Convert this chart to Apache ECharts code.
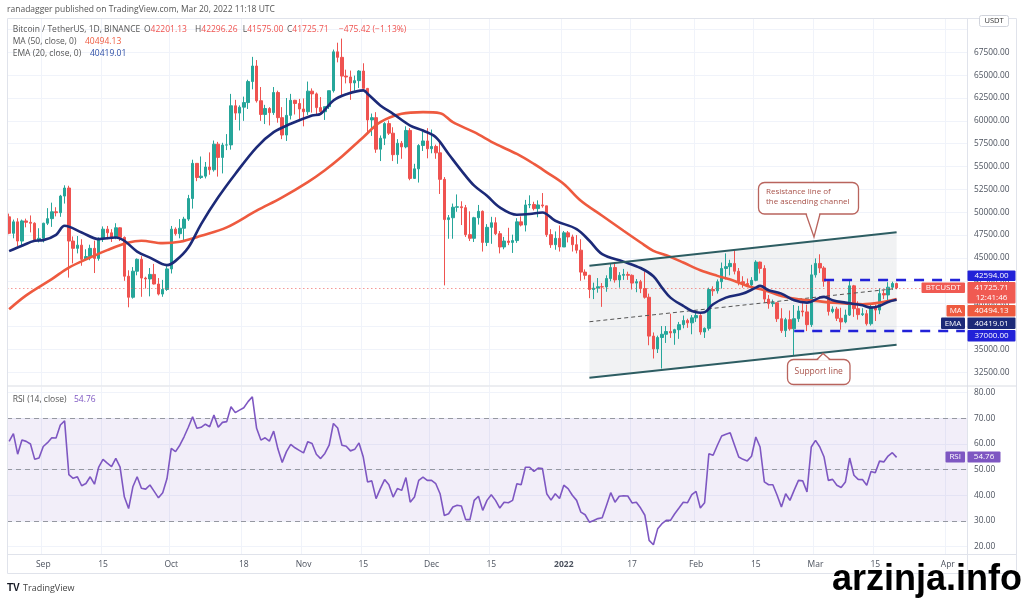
<!DOCTYPE html>
<html><head><meta charset="utf-8">
<script src="https://cdn.jsdelivr.net/npm/echarts@6/dist/echarts.min.js"></script>
<style>html,body{margin:0;padding:0;background:#fff}#c{width:1024px;height:599px}</style>
</head><body><div id="c"></div>
<script>
// ---------- DATA ----------
// Daily candles BTC/USDT, 2021-08-24 .. 2022-03-20 (index 0..208)
const opens = [
49500,47700,48950,46850,49050,48900,48800,46990,47150,48800,
49300,50050,49950,51770,52650,46850,46050,46400,44850,45150,
46050,44950,47100,48150,47750,47300,48300,47250,43000,40700,
43550,44850,42800,42700,43200,42150,41050,41550,43800,48150,
47650,48250,49250,51500,55350,53800,53950,54950,54650,57450,
56000,57350,57370,61650,60850,61500,62000,64300,66000,62200,
60700,61350,60900,63100,60350,58450,60600,62250,61900,61300,
61000,63250,62950,61450,61000,61550,63300,67550,66950,64900,
64800,64150,64400,65450,63550,60100,60350,56900,58100,59700,
58650,56300,57550,57150,58950,53700,54750,57300,57800,56950,
57200,56500,53600,49200,49400,50550,50600,50500,47550,47150,
49400,50100,46700,48350,48850,47650,46200,46850,46700,46900,
48950,48600,50800,50850,50400,50800,50700,47550,46450,47150,
46200,47750,47300,46450,45850,43450,43100,41550,41700,41850,
41830,42750,43950,42600,43100,43200,43100,42250,42400,41650,
40700,36450,35050,36300,36650,36950,36800,37150,37700,38150,
37900,38450,38700,36900,37300,41550,41400,42400,43850,44050,
44400,43550,42400,42200,42050,42550,44550,43850,40500,40000,
40100,38350,37050,38250,37250,38350,39200,39100,37700,43150,
44400,43900,42450,39150,39400,38400,38000,38750,41950,39450,
38800,38900,37800,39650,39300,41100,40950,41800,42201.13];
const highs = [
49850,49200,49350,49200,49300,49650,48900,48250,48850,50450,
51050,50550,51900,52950,52900,47350,47400,47050,45950,46450,
46900,47250,48450,48500,48150,48800,48350,47350,43650,44000,
44950,45200,42950,43900,44350,42800,42600,44100,48500,48350,
49250,49500,51900,55750,55350,56100,55500,56550,57850,57700,
57600,58550,62950,62300,61700,62650,64500,67000,66650,63700,
61750,61500,63700,63300,61500,62500,62950,62300,62400,62450,
64300,63550,63100,62600,61550,63300,67800,68550,69000,65600,
65500,64950,65550,66300,63600,60800,60950,58400,59850,60050,
59300,58000,57800,59400,59200,55300,57450,58850,59200,59050,
57400,57600,53850,49700,50950,51950,51200,50800,50100,49500,
50800,50200,48700,49500,49450,47950,47300,48300,47550,49350,
49550,51350,51850,51150,51300,52100,50700,48150,47900,48550,
47950,47950,47550,47500,47050,43750,43150,42300,42800,42250,
43100,44350,44450,43450,43800,43500,43200,42700,42600,43500,
41100,36850,36500,37550,37550,38900,37250,38000,38700,38350,
38750,39250,38850,37400,41750,41900,42650,44500,45500,44800,
45850,43900,43000,42750,42900,44750,44600,44200,40950,40450,
40150,39500,38450,39250,39850,39750,40300,39900,44250,44950,
45400,44100,42500,39700,39650,39550,39350,42600,42050,40250,
39500,39300,39950,39900,41700,41500,42350,42400,42296.26];
const lows = [
47600,47150,46300,46400,48350,47800,46850,46700,46700,48600,
48400,49550,49500,50950,42850,44400,45500,44150,44750,44750,
43350,44700,46750,47050,46750,47050,46850,42500,39600,40550,
43100,40750,41650,40800,42100,40900,40750,41400,43300,47450,
47150,46950,49050,50400,53400,53650,53700,54100,54450,53900,
54250,56800,56850,60100,58950,60000,61300,63450,62000,60000,
59650,59500,60650,59800,58000,57800,60150,60700,59950,59400,
60650,60900,60700,60800,60100,61300,63100,66400,62800,64100,
62300,63300,63600,63550,58550,58350,56500,55600,57350,58450,
55600,55300,55850,57000,53500,53650,53250,56700,55900,56450,
55850,52000,42000,47100,47100,50050,48600,47300,46850,46750,
48650,45700,46300,46550,47500,45500,45950,46400,45550,46650,
48450,47900,50450,50200,49450,50500,47300,46100,45900,45700,
46200,46700,45700,45500,42500,42650,40600,40500,41200,39650,
41300,42450,42300,41750,42600,42600,41550,41250,41150,40550,
35450,34000,34600,32900,35700,36250,35500,36150,37300,37350,
36650,38000,36600,36250,37050,40850,41100,41650,42650,43100,
43200,42000,41750,41850,41550,42450,43300,40100,39450,39650,
38000,36800,36350,37050,34300,38000,38600,37000,37450,42850,
43350,41850,38700,38950,38100,37150,37850,38650,38550,38250,
38650,37600,37600,38100,38850,40500,40150,41500,41575.00];
const closes = [
47700,48950,46850,49050,48900,48800,46990,47150,48800,49300,
50050,49950,51770,52650,46850,46050,46400,44850,45150,46050,
44950,47100,48150,47750,47300,48300,47250,43000,40700,43550,
44850,42800,42700,43200,42150,41050,41550,43800,48150,47650,
48250,49250,51500,55350,53800,53950,54950,54650,57450,56000,
57350,57370,61650,60850,61500,62000,64300,66000,62200,60700,
61350,60900,63100,60350,58450,60600,62250,61900,61300,61000,
63250,62950,61450,61000,61550,63300,67550,66950,64900,64800,
64150,64400,65450,63550,60100,60350,56900,58100,59700,58650,
56300,57550,57150,58950,53700,54750,57300,57800,56950,57200,
56500,53600,49200,49400,50550,50600,50500,47550,47150,49400,
50100,46700,48350,48850,47650,46200,46850,46700,46900,48950,
48600,50800,50850,50400,50800,50700,47550,46450,47150,46200,
47750,47300,46450,45850,43450,43100,41550,41700,41850,41830,
42750,43950,42600,43100,43200,43100,42250,42400,41650,40700,
36450,35050,36300,36650,36950,36800,37150,37700,38150,37900,
38450,38700,36900,37300,41550,41400,42400,43850,44050,44400,
43550,42400,42200,42050,42550,44550,43850,40500,40000,40100,
38350,37050,38250,37250,38350,39200,39100,37700,43150,44400,
43900,42450,39150,39400,38400,38000,38750,41950,39450,38800,
38900,37800,39650,39300,41100,40950,41800,42200,41725.71];

// MA(50) and EMA(20)
const maPoints = [
['2021-08-24',39380],['2021-08-28',40900],['2021-09-03',42680],['2021-09-07',43950],['2021-09-12',45050],
['2021-09-16',45860],['2021-09-21',46690],['2021-09-24',46880],['2021-09-29',46620],['2021-10-03',46770],
['2021-10-08',47420],['2021-10-14',48340],['2021-10-21',50170],['2021-10-27',51630],['2021-11-02',53300],
['2021-11-06',54600],['2021-11-10',56100],['2021-11-15',58210],['2021-11-19',59850],['2021-11-24',60770],
['2021-11-29',60950],['2021-12-03',60840],['2021-12-06',59850],['2021-12-11',58760],['2021-12-16',57480],
['2021-12-21',56380],['2021-12-25',55290],['2021-12-28',54370],['2022-01-01',53100],['2022-01-05',51260],
['2022-01-10',49620],['2022-01-15',47970],['2022-01-19',46690],['2022-01-22',45780],['2022-01-25',45300],
['2022-01-29',44500],['2022-02-02',43660],['2022-02-06',43040],['2022-02-10',42490],['2022-02-13',41940],
['2022-02-17',41470],['2022-02-21',40840],['2022-02-25',40480],['2022-03-01',40300],['2022-03-05',40110],
['2022-03-09',40000],['2022-03-12',39930],['2022-03-16',40110],['2022-03-20',40494.13]];
const emaPoints = [
['2021-08-24',45750],['2021-08-27',46330],['2021-08-30',46880],['2021-09-01',46950],['2021-09-04',47530],
['2021-09-06',48520],['2021-09-10',47790],['2021-09-14',47060],['2021-09-18',47240],['2021-09-20',46880],
['2021-09-23',45700],['2021-09-26',45040],['2021-09-30',44210],['2021-10-02',44680],['2021-10-05',46140],
['2021-10-08',48710],['2021-10-12',51630],['2021-10-16',54190],['2021-10-21',57110],['2021-10-25',58760],
['2021-10-29',59680],['2021-11-03',60590],['2021-11-05',60770],['2021-11-08',62230],['2021-11-11',62900],
['2021-11-15',63330],['2021-11-16',62970],['2021-11-19',61690],['2021-11-22',60770],['2021-11-26',59490],
['2021-11-29',58940],['2021-12-02',58210],['2021-12-05',56380],['2021-12-08',54560],['2021-12-11',52910],
['2021-12-14',51810],['2021-12-17',50530],['2021-12-21',49720],['2021-12-24',49800],['2021-12-27',49980],
['2021-12-30',49070],['2022-01-04',48160],['2022-01-07',46880],['2022-01-10',45420],['2022-01-15',44600],
['2022-01-19',43900],['2022-01-22',43000],['2022-01-24',41750],['2022-01-26',40660],['2022-01-29',39750],
['2022-01-31',39200],['2022-02-02',39010],['2022-02-03',39050],['2022-02-05',39930],['2022-02-08',40660],
['2022-02-12',41100],['2022-02-15',41750],['2022-02-16',41940],['2022-02-18',41470],['2022-02-21',41100],
['2022-02-24',40370],['2022-02-27',40110],['2022-03-02',40660],['2022-03-03',40740],['2022-03-05',40370],
['2022-03-08',40110],['2022-03-12',39820],['2022-03-14',39560],['2022-03-16',39750],['2022-03-18',40180],
['2022-03-20',40419.01]];

// RSI(14), index 0..208
const rsi = [
61,64,56,61.5,61,60,54,54.5,59,60.5,
62.4,62.3,67.4,69,48,46.6,47.2,43.7,44.6,47.2,
44.3,51,54,52.5,51.2,54.4,51,39.4,34.8,43.3,
47.2,42.7,42.4,44,41.5,39,41,46.5,58.3,57,
59.5,62.8,66.5,70.6,66.1,66.5,67.7,66.7,71.3,66.5,
68.4,68.7,74.5,72.2,73.2,74.1,76.5,78.4,66.1,61.5,
62.4,61.1,65,58,52.8,57,59.8,58.5,57.5,56.5,
60.9,60.2,56,54.3,56.3,59.5,68,66.2,59.5,59.1,
57.3,57.9,60.4,54.9,45.2,45.6,38.7,42.6,46.1,44.1,
39.3,42.6,41.9,46.9,37.3,39.3,45.8,47.1,45.8,45.8,
44.5,40.6,32.1,32.8,35.4,36.1,35.8,30.5,30.5,38,
39.6,34.1,38,40.2,38,35,37.3,37.1,38,44.5,
44.1,50.9,50.9,49.3,50.6,50.4,40.6,38.1,40.6,38.7,
43.9,42.6,40,38,33.4,32.4,29.5,30.2,30.9,31.2,
36,41,37.3,39.6,39.8,39.7,37,37.3,35,32.2,
22.4,20.7,26.9,28.9,30.2,30.2,32.8,35,37.3,37.1,
40.2,41.5,35,37.1,56.2,55.6,59.5,63.1,63.8,64.4,
59.6,54.9,54,53.4,55.2,62.7,58.8,45.2,44.1,44.1,
40,35.4,40.6,38,42,45.8,45.6,41.3,58.8,61.4,
58.8,54.9,45.8,46.2,43.9,43,45.2,54.5,47.8,46.2,
46.1,43.9,49.3,48.8,53.3,53,55.3,56.6,54.76];

// Drawings
const channelX = ['2022-01-07', '2022-03-20'];
const channelUpper = [44150, 47820];
const channelLower = [31890, 35500];
const channelMid = [38020, 41660];
const resistanceLevel = 42594;
const supportLevel = 37000;
const resistanceStart = '2022-03-03';
const supportStart = '2022-02-24';

// Axis ticks
const priceTicks = [32500,35000,37500,40000,42500,45000,47500,50000,52500,55000,57500,60000,62500,65000,67500];
const priceGrid = priceTicks.concat([70000]);
const rsiTicks = [20,30,40,50,60,70,80];
const xLabels = {
 '2021-09-01':'Sep','2021-09-15':'15','2021-10-01':'Oct','2021-10-18':'18','2021-11-01':'Nov','2021-11-15':'15',
 '2021-12-01':'Dec','2021-12-15':'15','2022-01-01':'2022','2022-01-17':'17','2022-02-01':'Feb','2022-02-15':'15',
 '2022-03-01':'Mar','2022-03-15':'15','2022-04-01':'Apr'};

// categories: every day from 2021-08-24 to 2022-04-05
const dates = [];
for (let t = Date.UTC(2021,7,24); t <= Date.UTC(2022,3,5); t += 86400000) dates.push(new Date(t).toISOString().slice(0,10));
const lastDate = dates[dates.length-1];

// ---------- CHART ----------
const FONT = '"Open Sans", "Noto Sans", sans-serif';
const UP = '#26a69a', DOWN = '#ef5350', MA_C = '#ee5a3f', EMA_C = '#1c2a78', BLUE = '#2222d8', PURPLE = '#7e57c2';
const candles = opens.map((o,i)=>[o, closes[i], lows[i], highs[i]]);
const n = closes.length - 1;
const chg = closes[n] - opens[n];
const chgPct = chg / opens[n] * 100;
const fmt = v => v.toFixed(2);
const minus = s => s.replace('-', '\u2212');

const G = [];
function txt(x, y, text, fill, size, o) {
  o = o || {};
  G.push({type:'text', x, y, silent:true, z:o.z||120,
    style:{text, fill, font:(o.weight?o.weight+' ':'')+size+'px '+(o.family||FONT),
      textAlign:o.align||'left', textVerticalAlign:o.va||'middle'}});
}
function box(x, y, w, h, fill, r) {
  G.push({type:'rect', silent:true, z:110, shape:{x, y, width:w, height:h, r:r||0}, style:{fill}});
}
function line(x1,y1,x2,y2,c,w){ G.push({type:'line', silent:true, z:90, shape:{x1,y1,x2,y2}, style:{stroke:c, lineWidth:w||1}}); }
function ohlc(x, letter, val) {
  G.push({type:'text', x, y:29.5, silent:true, z:120, style:{
    text:'{g|'+letter+'}{r|'+fmt(val)+'}', textVerticalAlign:'middle', font:'8.5px '+FONT,
    rich:{g:{fill:'#555', font:'8.5px '+FONT}, r:{fill:'#ef5350', font:'8.5px '+FONT}}}});
}

// frame
line(7.5,18.5,1016.5,18.5,'#e0e3eb'); line(7.5,573.5,1016.5,573.5,'#e0e3eb');
line(7.5,18.5,7.5,573.5,'#e0e3eb'); line(1016.5,18.5,1016.5,573.5,'#e0e3eb');
line(967.5,18.5,967.5,573.5,'#e0e3eb');
line(7.5,386,1016.5,386,'#d9dce3'); line(7.5,554.5,1016.5,554.5,'#e0e3eb');

// header
txt(7, 10, 'ranadagger published on TradingView.com, Mar 20, 2022 11:18 UTC', '#555', 8.5);
txt(12.7, 29.5, 'Bitcoin / TetherUS, 1D, BINANCE', '#555', 8.5);
ohlc(144, 'O', opens[n]);
ohlc(195, 'H', highs[n]);
ohlc(242.7, 'L', lows[n]);
ohlc(287, 'C', closes[n]);
txt(339, 29.5, minus(fmt(chg)) + ' (' + minus(fmt(chgPct)) + '%)', '#ef5350', 8.5);
txt(12.7, 41.5, 'MA (50, close, 0)', '#555', 8.5);
txt(85, 41.5, fmt(maPoints[maPoints.length-1][1]), MA_C, 8.5);
txt(12.7, 54, 'EMA (20, close, 0)', '#555', 8.5);
txt(90, 54, fmt(emaPoints[emaPoints.length-1][1]), '#2d4ea6', 8.5);
txt(12.7, 400, 'RSI (14, close)', '#555', 8.5);
txt(74, 400, fmt(rsi[n]), PURPLE, 8.5);

// USDT badge
G.push({type:'rect', silent:true, z:110, shape:{x:979.5,y:15.5,width:29,height:11,r:2}, style:{fill:'#fff', stroke:'#d1d4dc', lineWidth:1}});
txt(994, 21, 'USDT', '#333', 7.5, {align:'center'});

// price tags
box(967.5, 270.5, 48, 10.5, BLUE, 1); txt(991.5, 275.8, fmt(resistanceLevel), '#fff', 8, {align:'center'});
box(921.5, 282.5, 43.5, 10.5, '#f05a52', 1); txt(943.2, 287.8, 'BTCUSDT', '#fff', 8, {align:'center'});
box(967.5, 282, 48, 21.5, '#f05a52', 1);
txt(991.5, 287.5, fmt(closes[n]), '#fff', 8, {align:'center'});
txt(991.5, 298, '12:41:46', '#fff', 8, {align:'center'});
box(946.5, 305, 18.5, 11.5, MA_C, 1); txt(955.8, 310.8, 'MA', '#fff', 8, {align:'center'});
box(967.5, 305, 48, 11.5, MA_C, 1); txt(991.5, 310.8, fmt(maPoints[maPoints.length-1][1]), '#fff', 8, {align:'center'});
box(941, 317.5, 24, 11.5, EMA_C, 1); txt(953, 323.3, 'EMA', '#fff', 8, {align:'center'});
box(967.5, 317.5, 48, 11.5, EMA_C, 1); txt(991.5, 323.3, fmt(emaPoints[emaPoints.length-1][1]), '#fff', 8, {align:'center'});
box(967.5, 330, 48, 11.5, BLUE, 1); txt(991.5, 335.8, fmt(supportLevel), '#fff', 8, {align:'center'});
box(945.5, 451.5, 19.5, 11, PURPLE, 1); txt(955.2, 457, 'RSI', '#fff', 8, {align:'center'});
box(967.5, 451.5, 33, 11, PURPLE, 1); txt(984, 457, fmt(rsi[n]), '#fff', 8, {align:'center'});

// callouts
const CB = '#b9645d', CT = '#a8524a';
G.push({type:'rect', silent:true, z:115, shape:{x:758.5,y:182.5,width:100,height:31.5,r:6}, style:{fill:'#fff', stroke:CB, lineWidth:1.3}});
G.push({type:'polygon', silent:true, z:116, shape:{points:[[806.5,212.5],[814,237],[819.5,212.5]]}, style:{fill:'#fff'}});
G.push({type:'polyline', silent:true, z:117, shape:{points:[[806,214],[814,237],[820,214]]}, style:{stroke:CB, lineWidth:1.3, fill:null}});
txt(766, 192, 'Resistance line of', CT, 8, {z:118});
txt(766, 202, 'the ascending channel', CT, 8, {z:118});
G.push({type:'rect', silent:true, z:115, shape:{x:787.5,y:359.5,width:62.5,height:25,r:6}, style:{fill:'#fff', stroke:CB, lineWidth:1.3}});
G.push({type:'polygon', silent:true, z:116, shape:{points:[[817.5,360.5],[823,353.5],[829.5,360.5]]}, style:{fill:'#fff'}});
G.push({type:'polyline', silent:true, z:117, shape:{points:[[817,359.5],[823,353.5],[830,359.5]]}, style:{stroke:CB, lineWidth:1.3, fill:null}});
txt(818.7, 372, 'Support line', CT, 8.5, {align:'center', z:118});

// footer
txt(7, 588, 'TV', '#131722', 10, {weight:'bold', family:'"Liberation Sans", sans-serif'});
txt(23, 588, 'TradingView', '#444', 9);
txt(832, 562, 'arzinja.info', '#000', 36, {weight:'bold', family:'"Liberation Sans", Arial, sans-serif', va:'top', z:130});

const xIntervalFn = (i, v) => xLabels[v] !== undefined;

const option = {
  animation: false,
  backgroundColor: '#fff',
  grid: [
    {left:7, right:57, top:18, height:367.5, outerBoundsMode:'none'},
    {left:7, right:57, top:387, height:167, outerBoundsMode:'none'}
  ],
  xAxis: [
    {type:'category', gridIndex:0, data:dates, boundaryGap:true,
     axisLine:{show:false}, axisTick:{show:false}, axisLabel:{show:false},
     splitLine:{show:true, interval:xIntervalFn, lineStyle:{color:'#f0f3fa', width:1}}},
    {type:'category', gridIndex:1, data:dates, boundaryGap:true,
     axisLine:{show:false}, axisTick:{show:false},
     axisLabel:{show:true, interval:xIntervalFn, margin:6, color:'#4c525e', fontSize:8.5, fontFamily:FONT,
       formatter:v => xLabels[v] === '2022' ? '{b|2022}' : (xLabels[v] || ''),
       rich:{b:{fontWeight:'bold', color:'#4c525e', fontSize:8.5, fontFamily:FONT}}},
     splitLine:{show:true, interval:xIntervalFn, lineStyle:{color:'#f0f3fa', width:1}}}
  ],
  yAxis: [
    {type:'value', gridIndex:0, position:'right', min:31045, max:71253,
     axisLine:{show:false}, axisTick:{show:false, customValues:priceGrid},
     axisLabel:{show:true, customValues:priceTicks, margin:7, color:'#4c525e', fontSize:8.3, fontFamily:FONT, formatter:v => fmt(v)},
     splitLine:{show:true, lineStyle:{color:'#f0f3fa', width:1}}},
    {type:'value', gridIndex:1, position:'right', min:17.1, max:82.2,
     axisLine:{show:false}, axisTick:{show:false, customValues:rsiTicks},
     axisLabel:{show:true, customValues:rsiTicks, margin:7, color:'#4c525e', fontSize:8.3, fontFamily:FONT, formatter:v => fmt(v)},
     splitLine:{show:true, lineStyle:{color:'#f0f3fa', width:1}}}
  ],
  series: [
    {type:'custom', xAxisIndex:0, yAxisIndex:0, z:1, silent:true,
     data:[[dates.indexOf(channelX[0]), channelUpper[0]]],
     renderItem:(params, api) => {
       const i0 = dates.indexOf(channelX[0]), i1 = dates.indexOf(channelX[1]);
       const pts = [api.coord([i0, channelUpper[0]]), api.coord([i1, channelUpper[1]]),
                    api.coord([i1, channelLower[1]]), api.coord([i0, channelLower[0]])];
       return {type:'polygon', shape:{points:pts}, style:{fill:'rgba(120,128,140,0.1)'}};
     }},
    {type:'candlestick', xAxisIndex:0, yAxisIndex:0, z:3, data:candles, barWidth:3,
     itemStyle:{color:UP, color0:DOWN, borderColor:UP, borderColor0:DOWN, borderWidth:1},
     markLine:{silent:true, symbol:['none','none'], label:{show:false},
       lineStyle:{color:'#ef5350', type:[1.5,2.5], width:1, opacity:0.6},
       data:[{yAxis:closes[n]}]}},
    {type:'line', xAxisIndex:0, yAxisIndex:0, z:4, data:[[channelX[0],channelMid[0]],[channelX[1],channelMid[1]]],
     symbol:'none', lineStyle:{color:'#555', width:1, type:[4,3]}},
    {type:'line', xAxisIndex:0, yAxisIndex:0, z:5, data:maPoints, smooth:0.35, symbol:'none',
     lineStyle:{color:MA_C, width:2.6}},
    {type:'line', xAxisIndex:0, yAxisIndex:0, z:6, data:emaPoints, smooth:0.35, symbol:'none',
     lineStyle:{color:EMA_C, width:2.6}},
    {type:'line', xAxisIndex:0, yAxisIndex:0, z:7, data:[[channelX[0],channelUpper[0]],[channelX[1],channelUpper[1]]],
     symbol:'none', lineStyle:{color:'#2d5d62', width:2}},
    {type:'line', xAxisIndex:0, yAxisIndex:0, z:7, data:[[channelX[0],channelLower[0]],[channelX[1],channelLower[1]]],
     symbol:'none', lineStyle:{color:'#2d5d62', width:2}},
    {type:'line', xAxisIndex:0, yAxisIndex:0, z:8, data:[[resistanceStart,resistanceLevel],[lastDate,resistanceLevel]],
     symbol:'none', lineStyle:{color:BLUE, width:2.5, type:[10,8]}},
    {type:'line', xAxisIndex:0, yAxisIndex:0, z:8, data:[[supportStart,supportLevel],[lastDate,supportLevel]],
     symbol:'none', lineStyle:{color:BLUE, width:2.5, type:[10,8]}},
    {type:'line', xAxisIndex:1, yAxisIndex:1, z:5, data:rsi, symbol:'none',
     lineStyle:{color:PURPLE, width:1.6},
     markArea:{silent:true, itemStyle:{color:'rgba(126,87,194,0.1)'}, data:[[{yAxis:30},{yAxis:70}]]},
     markLine:{silent:true, symbol:['none','none'], label:{show:false},
       lineStyle:{color:'#9598a1', type:[5,4], width:1}, data:[{yAxis:70},{yAxis:50},{yAxis:30}]}}
  ],
  graphic: G
};
const chart = echarts.init(document.getElementById('c'), null, {renderer:'canvas'});
chart.setOption(option);
</script></body></html>
